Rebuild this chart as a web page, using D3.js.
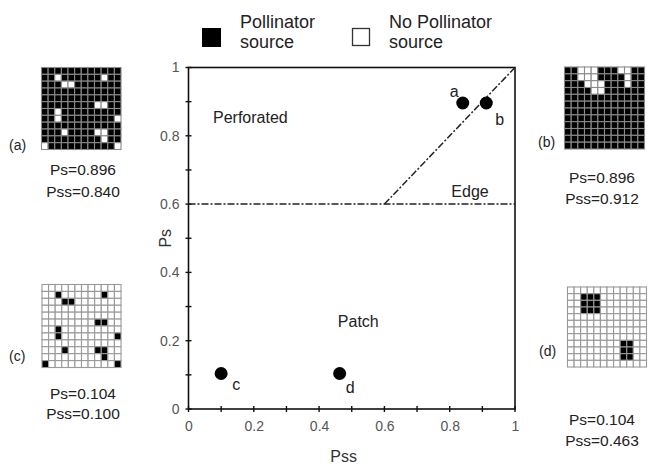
<!DOCTYPE html>
<html><head><meta charset="utf-8">
<script src="https://cdn.jsdelivr.net/npm/d3@7"></script>
<style>body{margin:0;background:#fff}svg{display:block}text{font-family:"Liberation Sans",Arial,sans-serif}</style>
</head><body><svg id="c" width="651" height="467"></svg>
<script>
// ---- data ----
const pointLabels = ["a", "b", "c", "d"];
const pssValues = [0.840, 0.912, 0.100, 0.463];
const psValues = [0.896, 0.896, 0.104, 0.104];
const xTicks = [0, 0.2, 0.4, 0.6, 0.8, 1];
const yTicks = [0, 0.2, 0.4, 0.6, 0.8, 1];
const minorTicks = [0, 0.1, 0.2, 0.3, 0.4, 0.5, 0.6, 0.7, 0.8, 0.9, 1];
const edgeThreshold = 0.6;
const regionNames = ["Perforated", "Edge", "Patch"];
const legendLabels = [["Pollinator", "source"], ["No Pollinator", "source"]];
const gridSize = 12;
// cells [row, col] that differ from the grid's base colour
const scatterCells = [[1,2],[2,3],[2,4],[1,9],[5,8],[5,9],[6,2],[7,2],[7,11],[9,3],[9,8],[9,9],[10,9],[11,0],[11,11]];
const edgeCells = [[0,2],[0,3],[0,4],[0,8],[0,9],[1,2],[1,3],[1,4],[1,9],[2,3],[2,4],[2,5],[2,9],[3,4],[3,5]];
const patchCells = [[1,2],[1,3],[1,4],[2,2],[2,3],[2,4],[3,2],[3,3],[3,4],[8,8],[8,9],[9,8],[9,9],[10,8],[10,9]];
const panelTags = ["(a)", "(b)", "(c)", "(d)"];
const panelBase = ["black", "black", "white", "white"];
const panelCells = [scatterCells, edgeCells, scatterCells, patchCells];

// ---- layout ----
const svg = d3.select("#c");
const X0 = 188.5, X1 = 515, Y0 = 409, Y1 = 67.5;
const x = d3.scaleLinear().domain([0, 1]).range([X0, X1]);
const y = d3.scaleLinear().domain([0, 1]).range([Y0, Y1]);

// frame
svg.append("rect").attr("x", X0).attr("y", Y1).attr("width", X1 - X0).attr("height", Y0 - Y1)
  .attr("fill", "none").attr("stroke", "#111").attr("stroke-width", 1.6);

// axes
const xAxis = svg.append("g").attr("transform", `translate(0,${Y0})`)
  .call(d3.axisBottom(x).tickValues(xTicks).tickFormat(d3.format("~g")).tickSize(0).tickPadding(12));
xAxis.select(".domain").remove();
xAxis.selectAll("text").attr("font-size", 14).attr("fill", "#555").attr("font-family", "Liberation Sans, Arial, sans-serif");
const yAxis = svg.append("g").attr("transform", `translate(${X0},0)`)
  .call(d3.axisLeft(y).tickValues(yTicks).tickFormat(d3.format("~g")).tickSize(0).tickPadding(9));
yAxis.select(".domain").remove();
yAxis.selectAll("text").attr("font-size", 14).attr("fill", "#555").attr("font-family", "Liberation Sans, Arial, sans-serif");

// crossing tick marks
svg.append("g").selectAll("line").data(minorTicks).join("line")
  .attr("x1", d => x(d)).attr("x2", d => x(d)).attr("y1", Y0 - 3).attr("y2", Y0 + 3)
  .attr("stroke", "#111").attr("stroke-width", 1.4);
svg.append("g").selectAll("line").data(minorTicks).join("line")
  .attr("y1", d => y(d)).attr("y2", d => y(d)).attr("x1", X0 - 3).attr("x2", X0 + 3)
  .attr("stroke", "#111").attr("stroke-width", 1.4);

// axis titles
svg.append("text").attr("x", x(0.475)).attr("y", 462).attr("text-anchor", "middle")
  .attr("font-size", 16).attr("fill", "#333").text("Pss");
svg.append("text").attr("transform", `translate(171,${y(0.5)}) rotate(-90)`).attr("text-anchor", "middle")
  .attr("font-size", 16).attr("fill", "#333").text("Ps");

// threshold lines (dash-dot)
const dash = "7,2,2,2";
svg.append("line").attr("x1", x(0)).attr("x2", x(1)).attr("y1", y(edgeThreshold)).attr("y2", y(edgeThreshold))
  .attr("stroke", "#222").attr("stroke-width", 1.5).attr("stroke-dasharray", dash);
svg.append("line").attr("x1", x(edgeThreshold)).attr("y1", y(edgeThreshold)).attr("x2", x(1)).attr("y2", y(1))
  .attr("stroke", "#222").attr("stroke-width", 1.5).attr("stroke-dasharray", dash);

// region labels
const regionPos = [[0.075, 0.838, "start"], [0.805, 0.62, "start"], [0.52, 0.24, "middle"]];
regionNames.forEach((n, i) => {
  svg.append("text").attr("x", x(regionPos[i][0])).attr("y", y(regionPos[i][1]))
    .attr("text-anchor", regionPos[i][2]).attr("font-size", 16).attr("fill", "#222").text(n);
});

// points
svg.append("g").selectAll("circle").data(pointLabels).join("circle")
  .attr("cx", (d, i) => x(pssValues[i])).attr("cy", (d, i) => y(psValues[i])).attr("r", 6.5).attr("fill", "#000");
const labelOff = [[-13, -6], [9, 22], [11, 17], [6, 20]];
svg.append("g").selectAll("text").data(pointLabels).join("text")
  .attr("x", (d, i) => x(pssValues[i]) + labelOff[i][0]).attr("y", (d, i) => y(psValues[i]) + labelOff[i][1])
  .attr("font-size", 16).attr("fill", "#222").text(d => d);

// legend
const lg = svg.append("g");
lg.append("rect").attr("x", 202.5).attr("y", 28.5).attr("width", 18).attr("height", 18).attr("fill", "#000").attr("stroke", "#000");
lg.append("rect").attr("x", 352.5).attr("y", 28.5).attr("width", 17).attr("height", 17).attr("fill", "#fff").attr("stroke", "#333").attr("stroke-width", 1.3);
const legX = [240, 389];
legendLabels.forEach((ls, i) => {
  ls.forEach((t, j) => {
    lg.append("text").attr("x", legX[i]).attr("y", 28 + j * 20).attr("font-size", 18).attr("fill", "#222").text(t);
  });
});

// grid panels
const panelBox = [[41.5, 67.5, 79.5, 82], [564.5, 67, 80, 82], [42, 284.5, 79, 83], [567.5, 287, 79, 80]];
const panelTagPos = [[9, 150], [538, 147], [9, 361], [539, 356]];
const panelText = [[83, 175, 197], [602, 183, 204], [83, 399, 419], [602, 425, 446]];
panelBox.forEach((b, p) => {
  const g = svg.append("g");
  const cx = d3.scaleBand().domain(d3.range(gridSize)).range([b[0], b[0] + b[2]]);
  const cy = d3.scaleBand().domain(d3.range(gridSize)).range([b[1], b[1] + b[3]]);
  const flipped = new Set(panelCells[p].map(c => c[0] * gridSize + c[1]));
  const base = panelBase[p], other = base === "black" ? "white" : "black";
  const cells = d3.range(gridSize * gridSize);
  g.selectAll("rect").data(cells).join("rect")
    .attr("x", d => cx(d % gridSize)).attr("y", d => cy(Math.floor(d / gridSize)))
    .attr("width", cx.bandwidth()).attr("height", cy.bandwidth())
    .attr("fill", d => (flipped.has(d) ? other : base) === "black" ? "#000" : "#fff")
    .attr("stroke", base === "black" ? "#8a8a8a" : "#999").attr("stroke-width", 1.1);
  svg.append("text").attr("x", panelTagPos[p][0]).attr("y", panelTagPos[p][1]).attr("font-size", 14).attr("fill", "#222").text(panelTags[p]);
  svg.append("text").attr("x", panelText[p][0]).attr("y", panelText[p][1]).attr("text-anchor", "middle")
    .attr("font-size", 15.5).attr("fill", "#222").text("Ps=" + d3.format(".3f")(psValues[p]));
  svg.append("text").attr("x", panelText[p][0]).attr("y", panelText[p][2]).attr("text-anchor", "middle")
    .attr("font-size", 15.5).attr("fill", "#222").text("Pss=" + d3.format(".3f")(pssValues[p]));
});
</script></body></html>
